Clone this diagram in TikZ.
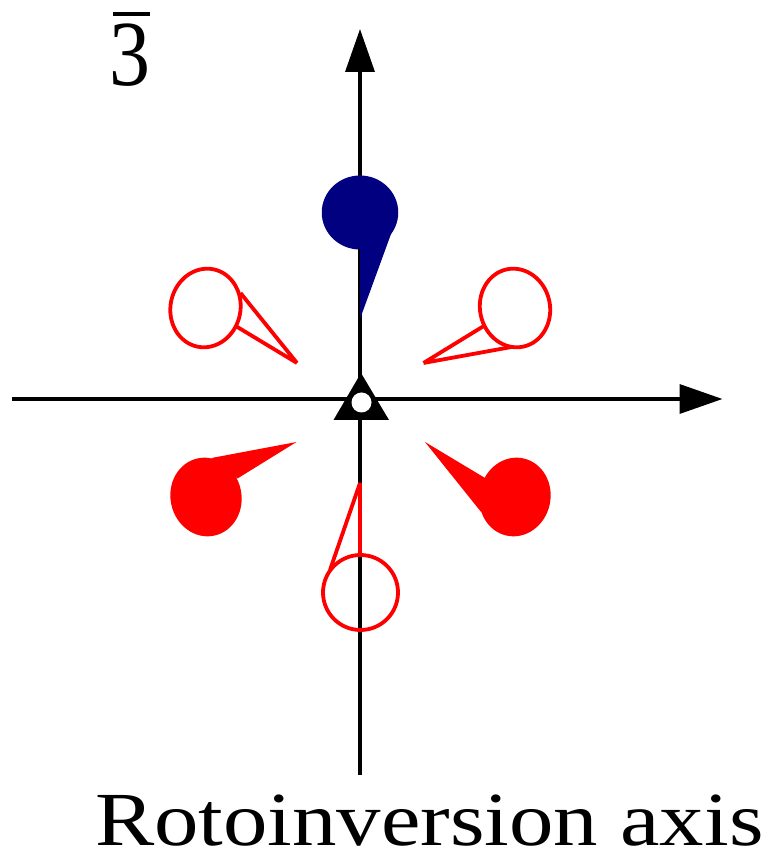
\documentclass[tikz,border=0pt]{standalone}
\usepackage{amsmath}
\usepackage{fontspec}
\usetikzlibrary{arrows.meta,positioning}
\newfontfamily\symfont[FakeStretch=0.88]{Liberation Serif}
\newfontfamily\capfont[FakeStretch=1.162]{Liberation Serif}
\definecolor{darkblue}{RGB}{0,0,128}
\tikzset{
    axisline/.style={line width=0.072cm,-{Triangle[length=0.86cm,width=0.58cm]}},
    openpoint/.style={draw=red,line width=0.076cm,fill=none,line join=round},
    fullpoint/.style={fill=red},
    symtext/.style={inner sep=0,font=\fontsize{53}{53}\symfont},
    captext/.style={inner sep=0,font=\fontsize{43.5}{44}\capfont}
}
\begin{document}
\begin{tikzpicture}
    \useasboundingbox (-7.2,-9.06) rectangle (8.14,7.98);
    % Axes
    \coordinate (left) at (-6.96,0);
    \coordinate (right) at (7.25,0);
    \coordinate (bottom) at (0,-7.52);
    \coordinate (top) at (0,7.4);
    \draw[axisline] (left) -- (right);
    \draw[axisline] (bottom) -- (top);
    % Blue point above the plane
    \fill[darkblue] (0,3.73) ellipse (0.765 and 0.74);
    \fill[darkblue] (0,1.6) -- (0.62,3.3) -- (0,3.2) -- cycle;
    % Open points
    \draw[openpoint] (-3.09,1.82) ellipse [x radius=0.7,y radius=0.79,rotate=-12];
    \draw[openpoint] (-1.26,0.72) -- (-2.39,2.12) (-1.26,0.72) -- (-2.47,1.45);
    \draw[openpoint] (3.1,1.82) ellipse [x radius=0.7,y radius=0.79,rotate=12];
    \draw[openpoint] (1.27,0.72) -- (2.46,1.45) (1.27,0.72) -- (3.03,1.04);
    \draw[openpoint] (0.01,-3.87) circle (0.75);
    \draw[openpoint] (0,-1.68) -- (-0.6,-3.42) (0,-1.68) -- (0,-3.15);
    % Filled points
    \fill[fullpoint] (-3.08,-1.96) ellipse [x radius=0.71,y radius=0.79,rotate=12];
    \fill[fullpoint] (-1.27,-0.86) -- (-2.97,-1.18) -- (-2.45,-1.59) -- cycle;
    \fill[fullpoint] (3.1,-1.96) ellipse [x radius=0.71,y radius=0.79,rotate=-12];
    \fill[fullpoint] (1.3,-0.86) -- (2.5,-1.58) -- (2.43,-2.27) -- cycle;
    % Centre symbol
    \fill (0.02,0.52) -- (-0.53,-0.42) -- (0.58,-0.42) -- cycle;
    \fill[white] (0.03,-0.07) circle (0.2);
    % Labels
    \node[symtext,anchor=base] (sym) at (-4.6,6.26) {3};
    \fill (-4.94,7.66) rectangle (-4.2,7.74);
    \node[captext,anchor=base east] (caption) at (8.08,-8.92) {Rotoinversion axis};
\end{tikzpicture}
\end{document}
